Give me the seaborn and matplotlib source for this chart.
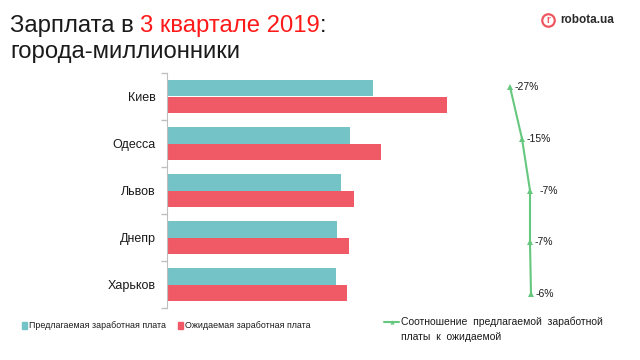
import pandas as pd
import matplotlib.pyplot as plt
import seaborn as sns
from matplotlib.patches import Patch
from matplotlib.lines import Line2D

# данные (зарплата, грн) — оценка по длине столбцов
cities = ['Киев', 'Одесса', 'Львов', 'Днепр', 'Харьков']
offered = [14700, 13070, 12430, 12140, 12070]
expected = [20000, 15290, 13360, 13000, 12860]
ratio = [-27, -15, -7, -7, -6]
ratio_labels = ['-27%', '-15%', '-7%', '-7%', '-6%']

teal = '#74c3c7'
red = '#f05a66'
green = '#66c77f'

sns.set_style('white')
plt.rcParams['font.family'] = ['Liberation Sans', 'DejaVu Sans']

df = pd.DataFrame({
    'city': cities * 2,
    'value': offered + expected,
    'kind': ['Предлагаемая заработная плата'] * 5 + ['Ожидаемая заработная плата'] * 5,
})

fig = plt.figure(figsize=(6.4, 3.6), dpi=100)

# столбцы
ax = fig.add_axes([167 / 640, 1 - 308 / 360, 300 / 640, 235 / 360])
sns.barplot(data=df, y='city', x='value', hue='kind', orient='h',
            palette=[teal, red], width=0.72, saturation=1, linewidth=0,
            ax=ax, legend=False)
ax.set_xlim(0, 21430)
ax.set_ylim(4.5, -0.5)
ax.set_xlabel('')
ax.set_ylabel('')
ax.set_xticks([])
for s in ['top', 'right', 'bottom']:
    ax.spines[s].set_visible(False)
ax.spines['left'].set_color('#bfbfbf')
ax.tick_params(axis='y', which='major', length=0, pad=8, labelsize=9, labelcolor='#1a1a1a')
ax.set_yticks([i + 0.5 for i in range(-1, 5)], minor=True)
ax.tick_params(axis='y', which='minor', left=True, length=4, color='#bfbfbf', width=1)

# линия соотношения
ax2 = fig.add_axes([490 / 640, 1 - 320 / 360, 70 / 640, 259 / 360])
ax2.patch.set_alpha(0)
sns.lineplot(x=ratio, y=list(range(5)), sort=False, estimator=None, color=green,
             marker='^', markersize=4, markeredgewidth=0, linewidth=1.5, ax=ax2)
ax2.set_xlim(-47, 23)
ax2.set_ylim(4.5, -0.5)
ax2.axis('off')
offs = [3, 3, 7, 3, 3]
for i, (v, lab) in enumerate(zip(ratio, ratio_labels)):
    ax2.annotate(lab, (v, i), xytext=(offs[i], 0), textcoords='offset points',
                 va='center', ha='left', fontsize=7.5, color='#1a1a1a')

# заголовок
t1 = fig.text(10 / 640, 1 - 32 / 360, 'Зарплата в ', fontsize=17.2, color='#1a1a1a', va='baseline')
t2 = plt.annotate('3 квартале 2019', xycoords=t1, xy=(1, 0), va='bottom',
                  fontsize=17.2, color='#ff1a1a')
plt.annotate(':', xycoords=t2, xy=(1, 0), va='bottom', fontsize=17.2, color='#1a1a1a')
fig.text(10 / 640, 1 - 58 / 360, 'города-миллионники', fontsize=17.2, color='#1a1a1a', va='baseline')

# логотип
fig.add_artist(Line2D([548 / 640], [1 - 20 / 360], marker='o', markersize=9,
                      markerfacecolor='white', markeredgecolor='#f0565f', markeredgewidth=1.6,
                      transform=fig.transFigure))
fig.text(548 / 640, 1 - 20 / 360, 'r', fontsize=7, fontweight='bold', color='#f0565f',
         ha='center', va='center')
fig.text(560 / 640, 1 - 20 / 360, 'robota.ua', fontsize=8.5, fontweight='bold', color='#2b2b2b',
         ha='left', va='center')

# легенда
bar_handles = [Patch(color=teal, label='Предлагаемая заработная плата'),
               Patch(color=red, label='Ожидаемая заработная плата')]
fig.legend(handles=bar_handles, loc='center left', bbox_to_anchor=(14 / 640, 1 - 326 / 360),
           ncol=2, frameon=False, fontsize=6.4, handlelength=0.6, handleheight=0.7,
           handletextpad=0.2, columnspacing=1.3, labelcolor='#1a1a1a')
line_handle = [Line2D([], [], color=green, marker='^', markersize=3, markeredgewidth=0,
                      label='Соотношение  предлагаемой  заработной')]
fig.legend(handles=line_handle, loc='center left', bbox_to_anchor=(375 / 640, 1 - 322 / 360),
           frameon=False, fontsize=7.5, handlelength=1.4, handletextpad=0.2,
           labelcolor='#1a1a1a')
fig.text(401 / 640, 1 - 337 / 360, 'платы  к  ожидаемой', fontsize=7.5, color='#1a1a1a',
         ha='left', va='center')

fig.savefig('out.png', dpi=100)
